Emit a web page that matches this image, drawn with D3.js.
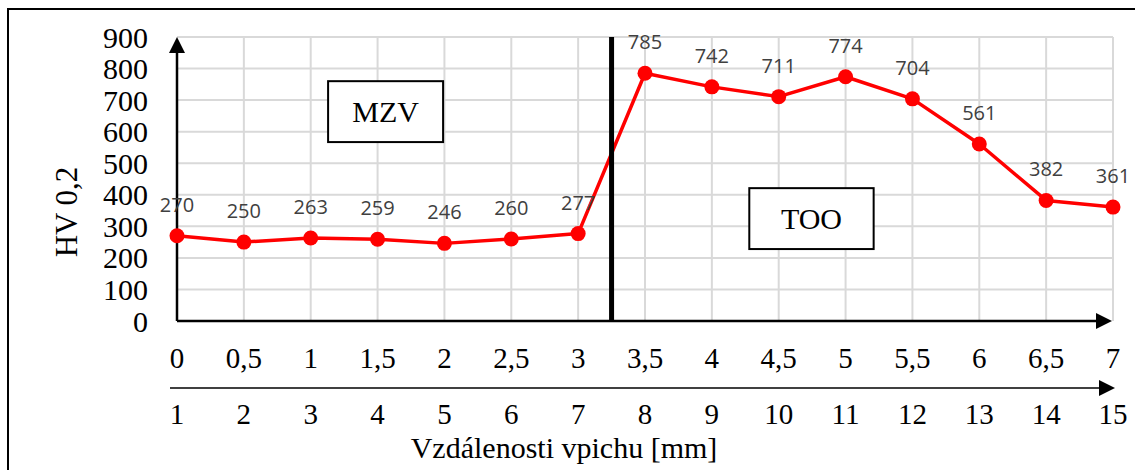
<!DOCTYPE html>
<html><head><meta charset="utf-8">
<script src="https://cdn.jsdelivr.net/npm/d3@7"></script>
<style>body{margin:0;background:#fff}svg{display:block}</style>
</head><body>
<svg id="c" width="1135" height="470"></svg>
<script>
const distances = [0,0.5,1,1.5,2,2.5,3,3.5,4,4.5,5,5.5,6,6.5,7];
const distanceLabels = ["0","0,5","1","1,5","2","2,5","3","3,5","4","4,5","5","5,5","6","6,5","7"];
const pointNumbers = ["1","2","3","4","5","6","7","8","9","10","11","12","13","14","15"];
const hardness = [270,250,263,259,246,260,277,785,742,711,774,704,561,382,361];
const yTicks = [0,100,200,300,400,500,600,700,800,900];
const boundaryAt = [3.25];
const zoneLabels = [{t:"MZV", x:1.13, y:760, w:0.86, h:193}, {t:"TOO", x:4.28, y:421, w:0.93, h:193}];

const svg = d3.select("#c");
const x = d3.scaleLinear().domain([0,7]).range([177,1113]);
const y = d3.scaleLinear().domain([0,900]).range([321,37]);
const serif = "'Liberation Serif','Times New Roman',serif";

// outer frame
svg.append("rect").attr("x",8).attr("y",9).attr("width",1150).attr("height",500)
  .attr("fill","none").attr("stroke","#000").attr("stroke-width",2);

// grid
const g = svg.append("g");
g.selectAll(".hg").data(yTicks.slice(1)).join("line")
  .attr("x1",x(0)).attr("x2",x(7)).attr("y1",d=>y(d)).attr("y2",d=>y(d))
  .attr("stroke","#d9d9d9").attr("stroke-width",2);
g.selectAll(".vg").data(distances.slice(1)).join("line")
  .attr("x1",d=>x(d)).attr("x2",d=>x(d)).attr("y1",y(0)).attr("y2",y(900))
  .attr("stroke","#d9d9d9").attr("stroke-width",2);

// y tick labels
svg.selectAll(".yt").data(yTicks).join("text")
  .attr("x",148).attr("y",d=>y(d)+10.5).attr("text-anchor","end")
  .attr("font-family",serif).attr("font-size",30).attr("fill","#000").text(d=>d);

// axes with arrows
svg.append("line").attr("x1",x(0)).attr("x2",x(0)).attr("y1",y(0)).attr("y2",y(900)+12)
  .attr("stroke","#000").attr("stroke-width",2.5);
svg.append("path").attr("d",`M${x(0)},${y(900)} l-8,16 l16,0 Z`).attr("fill","#000");
svg.append("line").attr("x1",x(0)).attr("x2",x(7)-14).attr("y1",y(0)).attr("y2",y(0))
  .attr("stroke","#000").attr("stroke-width",2.5);
svg.append("path").attr("d",`M${x(7)-1},${y(0)} l-16,-8 l0,16 Z`).attr("fill","#000");

// x tick labels row 1
svg.selectAll(".xt").data(distances).join("text")
  .attr("x",d=>x(d)).attr("y",368).attr("text-anchor","middle")
  .attr("font-family",serif).attr("font-size",29).attr("fill","#000")
  .text((d,i)=>distanceLabels[i]);
// second arrow
svg.append("line").attr("x1",170).attr("x2",x(7)-12).attr("y1",388).attr("y2",388)
  .attr("stroke","#000").attr("stroke-width",1.5);
svg.append("path").attr("d",`M${x(7)+2},388 l-16,-8 l0,16 Z`).attr("fill","#000");
// row 2
svg.selectAll(".pn").data(distances).join("text")
  .attr("x",d=>x(d)).attr("y",424).attr("text-anchor","middle")
  .attr("font-family",serif).attr("font-size",29).attr("fill","#000")
  .text((d,i)=>pointNumbers[i]);

// axis titles
svg.append("text").attr("x",564).attr("y",458).attr("text-anchor","middle")
  .attr("font-family",serif).attr("font-size",30).attr("fill","#000").text("Vzdálenosti vpichu [mm]");
svg.append("text").attr("transform","translate(77,212) rotate(-90)").attr("text-anchor","middle")
  .attr("font-family",serif).attr("font-size",31).attr("fill","#000").text("HV 0,2");

// zone boxes
const zb = svg.selectAll(".zb").data(zoneLabels).join("g");
zb.append("rect").attr("x",d=>x(d.x)).attr("y",d=>y(d.y))
  .attr("width",d=>x(d.x+d.w)-x(d.x)).attr("height",d=>y(d.y-d.h)-y(d.y))
  .attr("fill","#fff").attr("stroke","#000").attr("stroke-width",2);
zb.append("text").attr("x",d=>x(d.x+d.w/2)).attr("y",d=>y(d.y-d.h/2)+10.5)
  .attr("text-anchor","middle").attr("font-family",serif).attr("font-size",30).attr("fill","#000").text(d=>d.t);

// line series
const line = d3.line().x((d,i)=>x(distances[i])).y(d=>y(d));
svg.append("path").datum(hardness).attr("d",line).attr("fill","none")
  .attr("stroke","#ff0000").attr("stroke-width",3.5).attr("stroke-linejoin","round");

// boundary line
svg.selectAll(".bl").data(boundaryAt).join("line")
  .attr("x1",d=>x(d)).attr("x2",d=>x(d)).attr("y1",y(0)).attr("y2",y(900))
  .attr("stroke","#000").attr("stroke-width",5);

svg.selectAll(".pt").data(hardness).join("circle")
  .attr("cx",(d,i)=>x(distances[i])).attr("cy",d=>y(d)).attr("r",7.5).attr("fill","#ff0000");

// data labels
svg.selectAll(".dl").data(hardness).join("text")
  .attr("x",(d,i)=>x(distances[i])).attr("y",d=>y(d)-24).attr("text-anchor","middle")
  .attr("font-family","'Open Sans',sans-serif").attr("font-size",20).attr("fill","#404040").text(d=>d);
</script>
</body></html>
